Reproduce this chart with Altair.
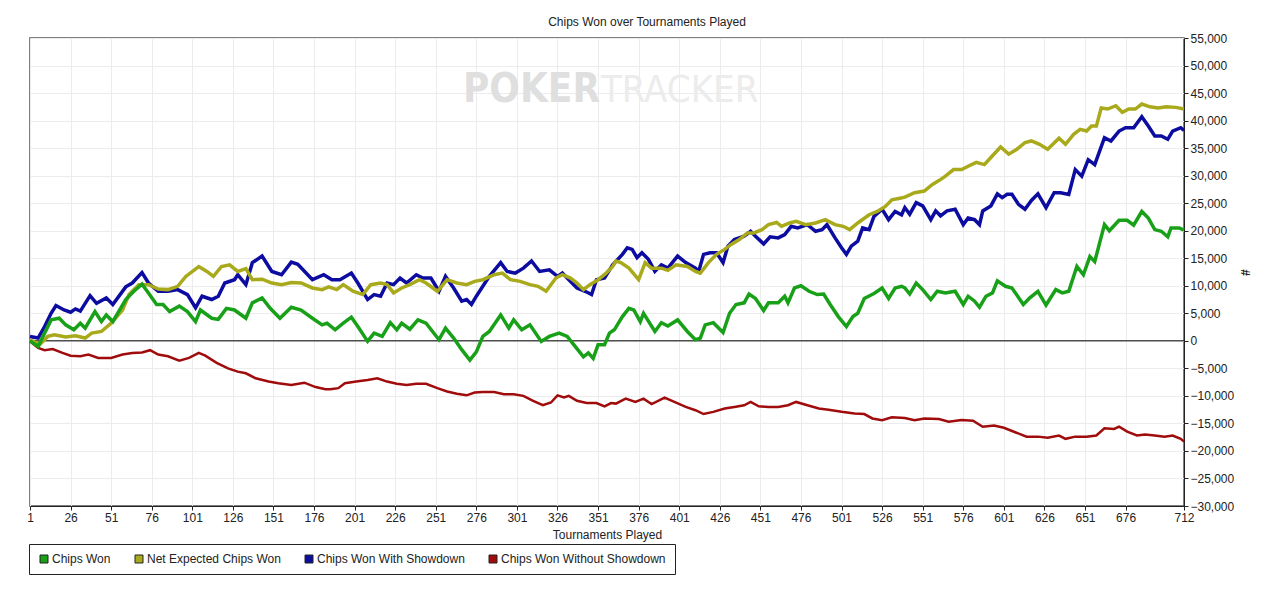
import altair as alt
import pandas as pd

SERIES = ["Chips Won", "Net Expected Chips Won", "Chips Won With Showdown", "Chips Won Without Showdown"]
COLORS = ["#18a018", "#a9a91c", "#0c0ca0", "#a00c0c"]

X_TICKS = [1, 26, 51, 76, 101, 126, 151, 176, 201, 226, 251, 276, 301, 326, 351, 376, 401,
           426, 451, 476, 501, 526, 551, 576, 601, 626, 651, 676, 712]
Y_TICKS = [-30000, -25000, -20000, -15000, -10000, -5000, 0, 5000, 10000, 15000, 20000,
           25000, 30000, 35000, 40000, 45000, 50000, 55000]

# Chips Won With Showdown (blue)
show_t = [1, 6, 10, 14, 17, 22, 26, 29, 32, 38, 42, 48, 52, 60, 64, 70, 74, 80, 86, 92, 98, 103, 107, 113, 117,
          121, 127, 129, 134, 138, 144, 150, 156, 162, 166, 175, 182, 187, 192, 199, 203, 209, 213, 217, 221,
          225, 229, 233, 239, 243, 248, 253, 257, 262, 267, 270, 273, 276, 280, 284, 291, 295, 300, 305, 310,
          315, 321, 326, 329, 333, 338, 343, 347, 350, 355, 360, 366, 369, 372, 375, 378, 382, 386, 390, 394,
          400, 405, 411, 413, 416, 420, 424, 428, 431, 435, 441, 445, 448, 453, 457, 462, 466, 470, 474, 480,
          485, 489, 492, 497, 501, 504, 507, 511, 514, 518, 521, 526, 530, 534, 538, 540, 543, 547, 551, 556,
          559, 562, 566, 571, 576, 579, 583, 586, 588, 593, 597, 600, 603, 606, 610, 614, 618, 622, 627, 632,
          636, 641, 645, 649, 653, 657, 663, 667, 672, 676, 681, 686, 690, 694, 698, 702, 705, 710, 712]
show_v = [800, 500, 2600, 5000, 6400, 5600, 5200, 5800, 5400, 8200, 6800, 7800, 6600, 9800, 10500, 12400, 10500,
          9000, 9000, 9300, 8400, 6000, 8100, 7500, 8100, 10500, 11100, 12000, 10200, 14200, 15400, 12600, 12000,
          14300, 13900, 11100, 12000, 11100, 11100, 12300, 10500, 7500, 8400, 8100, 10500, 10200, 11400, 10500,
          12000, 11400, 11400, 9000, 11700, 9600, 7200, 7500, 6600, 8100, 9900, 11700, 14200, 12600, 12300, 13200,
          14500, 12600, 12900, 11700, 12300, 11100, 9600, 9000, 8400, 11100, 11400, 13800, 15700, 16900, 16600,
          15100, 16000, 14800, 12600, 13800, 13200, 15400, 14200, 13200, 12600, 15700, 16000, 16000, 14200, 17200,
          18400, 19000, 19900, 19000, 17600, 18900, 18700, 19300, 20800, 20500, 21100, 19900, 20200, 21100, 18700,
          16900, 15700, 17200, 18100, 20500, 20200, 22600, 23900, 22000, 23500, 22900, 24200, 23000, 25100, 24500,
          22000, 23600, 22700, 23600, 23900, 21100, 22300, 22000, 21100, 23600, 24500, 26700, 26000, 26600, 26600,
          24800, 23900, 25500, 26700, 24200, 26900, 26900, 26600, 31100, 29900, 32900, 32000, 36900, 36300, 38100,
          38700, 38700, 40700, 39000, 37200, 37200, 36600, 38100, 38700, 38200]

# Chips Won (green)
won_t = [1, 6, 10, 14, 19, 23, 28, 32, 35, 41, 45, 48, 52, 60, 65, 70, 74, 79, 83, 87, 93, 98, 103, 106, 113,
         117, 122, 127, 134, 138, 144, 149, 155, 162, 168, 175, 181, 184, 189, 194, 199, 203, 209, 213, 218, 223,
         227, 230, 235, 240, 245, 253, 257, 262, 267, 272, 276, 280, 284, 291, 296, 299, 304, 309, 316, 321, 327,
         332, 336, 342, 345, 348, 351, 355, 358, 361, 366, 370, 373, 377, 379, 386, 390, 394, 400, 406, 411, 414,
         417, 422, 428, 432, 436, 441, 444, 448, 453, 456, 462, 466, 468, 472, 476, 481, 486, 490, 494, 499, 504,
         508, 511, 515, 521, 526, 530, 534, 538, 540, 543, 547, 551, 556, 560, 565, 571, 576, 579, 583, 586, 590,
         594, 597, 602, 606, 613, 617, 622, 627, 633, 637, 641, 646, 650, 654, 657, 663, 666, 672, 677, 681, 686,
         690, 694, 698, 702, 704, 709, 712]
won_v = [0, -1000, 1400, 3800, 4100, 2900, 2000, 3200, 2300, 5300, 3500, 4700, 3500, 7500, 9000, 10300, 8700, 6600,
         6600, 5300, 6300, 5300, 3500, 5600, 4100, 3900, 5900, 5600, 4100, 6900, 7800, 5900, 4100, 6100, 5600, 4100,
         2900, 3200, 2000, 3200, 4300, 2600, -100, 1400, 800, 3300, 2000, 3200, 2100, 3800, 3200, 200, 2300, 500,
         -1600, -3500, -2000, 800, 1700, 4700, 2300, 3800, 2000, 2900, -100, 800, 1400, 800, -700, -2900, -2200,
         -3200, -700, -700, 1400, 2000, 4400, 5900, 5600, 3500, 5000, 1700, 3300, 2700, 3800, 1700, 200, 500, 2900,
         3300, 1500, 5000, 6600, 6900, 8500, 7700, 5500, 6900, 6900, 8100, 6900, 9600, 10000, 9000, 8400, 8500,
         6600, 4400, 2600, 4400, 5000, 7700, 8600, 9600, 7700, 9600, 9900, 9600, 8500, 10500, 9300, 7500, 9000, 8700,
         9000, 6600, 8100, 7200, 6100, 8100, 8700, 10900, 9900, 9600, 6600, 7800, 9000, 6500, 9300, 8700, 9000,
         13500, 12000, 15300, 14400, 21100, 20000, 21900, 21900, 21000, 23500, 22300, 20200, 19900, 18900, 20500,
         20500, 20100]

# Net Expected Chips Won (olive)
nev_t = [1, 7, 12, 16, 23, 29, 35, 39, 45, 51, 58, 62, 68, 74, 80, 86, 92, 97, 105, 110, 114, 119, 124, 129, 134,
         138, 144, 150, 156, 162, 168, 175, 181, 185, 190, 194, 200, 206, 211, 217, 221, 225, 230, 235, 241, 245,
         252, 258, 264, 270, 275, 280, 287, 292, 297, 303, 309, 314, 319, 325, 329, 334, 338, 342, 346, 351, 356,
         360, 362, 365, 370, 376, 380, 384, 390, 394, 399, 406, 411, 414, 419, 424, 429, 433, 438, 443, 447, 452,
         456, 461, 464, 469, 473, 479, 485, 491, 497, 502, 506, 511, 518, 523, 528, 532, 537, 540, 546, 552, 557,
         561, 565, 570, 575, 579, 584, 589, 593, 599, 604, 609, 614, 618, 623, 628, 635, 639, 644, 648, 652, 655,
         658, 661, 665, 670, 674, 678, 682, 686, 691, 696, 701, 707, 712]
nev_v = [200, -700, 800, 1100, 700, 900, 500, 1400, 1700, 3200, 5600, 8400, 10200, 10200, 9400, 9300, 9900, 11700,
         13500, 12600, 11700, 13500, 13800, 12600, 13100, 11100, 11200, 10500, 10200, 10600, 10500, 9600, 9300,
         9800, 9300, 10200, 9000, 8400, 10200, 10500, 10200, 8700, 9600, 10200, 11100, 10500, 9000, 11100, 10500,
         10200, 10800, 11100, 12000, 12300, 11100, 10800, 10200, 9900, 9000, 11400, 12000, 11400, 10500, 9300,
         10200, 11100, 12300, 13500, 14500, 14200, 13200, 11100, 14200, 13200, 13200, 12800, 13800, 13500, 12600,
         12300, 14200, 15700, 16600, 17500, 18400, 19600, 19600, 20200, 21100, 21500, 20800, 21400, 21700, 21100,
         21400, 22000, 21100, 20800, 20200, 21400, 22900, 23500, 24400, 25600, 25900, 26100, 26900, 27200, 28400,
         29100, 29900, 31100, 31100, 31700, 32400, 32000, 33300, 35200, 33900, 34800, 36000, 36300, 35700, 34800,
         36800, 35700, 37500, 38400, 38100, 39000, 39000, 42300, 42100, 42700, 41500, 42100, 42100, 43000, 42500,
         42300, 42500, 42400, 42100]

# Chips Won Without Showdown (dark red)
nos_t = [1, 6, 10, 15, 21, 26, 32, 37, 43, 51, 58, 64, 70, 75, 80, 86, 93, 99, 105, 109, 116, 123, 129, 134, 140,
         148, 154, 162, 170, 177, 183, 186, 191, 195, 202, 209, 215, 221, 227, 233, 239, 245, 252, 258, 264, 270,
         275, 280, 287, 293, 299, 305, 311, 317, 322, 326, 330, 333, 338, 344, 350, 355, 359, 362, 368, 374, 379,
         384, 392, 398, 405, 411, 416, 422, 429, 435, 441, 445, 450, 456, 462, 468, 473, 480, 487, 493, 501, 509,
         515, 520, 526, 532, 540, 546, 552, 561, 567, 575, 582, 588, 595, 601, 608, 615, 622, 628, 635, 639, 645,
         652, 658, 663, 669, 672, 677, 683, 688, 694, 700, 705, 710, 712]
nos_v = [-100, -1300, -1700, -1500, -2200, -2700, -2800, -2500, -3100, -3100, -2500, -2200, -2100, -1700, -2500,
         -2800, -3600, -3100, -2200, -2700, -4000, -5000, -5600, -5900, -6800, -7400, -7700, -8000, -7600, -8400,
         -8800, -8800, -8600, -7700, -7400, -7100, -6800, -7400, -7800, -8000, -7800, -7800, -8600, -9200, -9600,
         -9900, -9400, -9300, -9300, -9700, -9700, -10000, -10900, -11700, -11200, -9900, -10300, -10000, -10900,
         -11300, -11300, -11900, -11300, -11400, -10500, -11100, -10500, -11500, -10300, -11100, -12000, -12600,
         -13300, -12900, -12300, -12000, -11700, -11100, -11900, -12000, -12000, -11700, -11100, -11700, -12300,
         -12500, -12900, -13200, -13300, -14100, -14400, -13900, -14000, -14400, -14100, -14200, -14700, -14400,
         -14500, -15600, -15400, -15800, -16600, -17400, -17400, -17600, -17200, -17800, -17400, -17400, -17200,
         -15900, -16000, -15600, -16500, -17200, -17000, -17200, -17400, -17200, -17800, -18300]

FONT = "Liberation Sans, Arial, sans-serif"

rows = []
for name, ts, vs in [(SERIES[3], nos_t, nos_v), (SERIES[2], show_t, show_v),
                     (SERIES[1], nev_t, nev_v), (SERIES[0], won_t, won_v)]:
    for t, v in zip(ts, vs):
        rows.append({"series": name, "t": t, "v": v})
df = pd.DataFrame(rows)

x_scale = alt.Scale(domain=[1, 712], nice=False, zero=False)
y_scale = alt.Scale(domain=[-30000, 55000], nice=False, zero=False)
x_axis = alt.Axis(values=X_TICKS, title="Tournaments Played", labelFlush=False,
                  labelOverlap=False, tickSize=4, labelPadding=2, titlePadding=6, grid=True)
y_axis = alt.Axis(orient="right", values=Y_TICKS, format=",d", title="#", tickSize=4,
                  labelPadding=2, titlePadding=4, grid=True, titleFontWeight="bold",
                  labelOverlap=False, labelFlush=False)
x_enc = alt.X("t:Q", scale=x_scale, axis=x_axis)
y_enc = alt.Y("v:Q", scale=y_scale, axis=y_axis)

# stroke scale lists the same series in reverse order so that Vega-Lite does not merge
# its (disabled) legend with the fill legend below
stroke_scale = alt.Scale(domain=SERIES[::-1], range=COLORS[::-1])
base = alt.Chart(df)

zero = alt.Chart(pd.DataFrame({"t": [1], "v": [0]})).mark_rule(color="#000000", strokeWidth=1).encode(
    y=y_enc)

WM_FONT = "Liberation Sans Narrow, DejaVu Sans Condensed, Liberation Sans, sans-serif"
wm1 = alt.Chart(pd.DataFrame({"w": ["POKER"]})).mark_text(
    font=WM_FONT, fontSize=40, fontWeight="bold",
    color="#dfdfdf", align="left", baseline="alphabetic").encode(
    text="w:N", x=alt.value(433), y=alt.value(64))
wm2 = alt.Chart(pd.DataFrame({"w": ["TRACKER"]})).mark_text(
    font=WM_FONT, fontSize=38,
    color="#ececec", align="left", baseline="alphabetic").encode(
    text="w:N", x=alt.value(571), y=alt.value(64))

layers = [wm1, wm2, zero]
for name in [SERIES[3], SERIES[2], SERIES[1], SERIES[0]]:
    w = 2.5 if name == SERIES[3] else 3.5
    layers.append(
        base.transform_filter(alt.datum.series == name).mark_line(strokeWidth=w).encode(
            x=x_enc, y=y_enc,
            stroke=alt.Stroke("series:N", scale=stroke_scale, legend=None)))

# legend-only layer: points sit outside the x domain and are clipped away
leg = alt.Chart(pd.DataFrame({"series": SERIES, "t": [-500, -500, -500, -500],
                              "v": [0, 0, 0, 0]})).mark_square(size=64, clip=True, filled=True,
                                                               opacity=1).encode(
    x=x_enc, y=y_enc,
    fill=alt.Fill("series:N", scale=alt.Scale(domain=SERIES, range=COLORS),
                  legend=alt.Legend(orient="none", legendX=-1, legendY=506, direction="horizontal",
                                    columns=4, title=None, symbolType="square", symbolSize=64,
                                    symbolStrokeColor="#222222", symbolStrokeWidth=1,
                                    symbolOpacity=1, labelLimit=400,
                                    labelFontSize=12, labelFont=FONT, labelColor="#222222",
                                    strokeColor="#222222", fillColor="#ffffff", padding=9,
                                    columnPadding=22, labelOffset=2)))
layers.append(leg)

chart = alt.layer(*layers).properties(
    width=1154, height=468,
    autosize=alt.AutoSizeParams(type="none"),
    padding={"left": 22, "top": 30, "right": 88, "bottom": 70},
    title=alt.Title("Chips Won over Tournaments Played", fontSize=12, font=FONT, fontWeight="normal",
                    color="#222222", offset=3, dx=40),
).configure_view(stroke="#555555", strokeWidth=1.5).configure_axis(
    gridColor="#ececec", gridWidth=1, domainColor="#222222", tickColor="#222222",
    labelColor="#222222", labelFont=FONT, titleFont=FONT, labelFontSize=12, titleFontSize=12,
    titleColor="#222222", titleFontWeight="normal")

chart.save("out.html", embed_options={"renderer": "svg", "actions": False})
